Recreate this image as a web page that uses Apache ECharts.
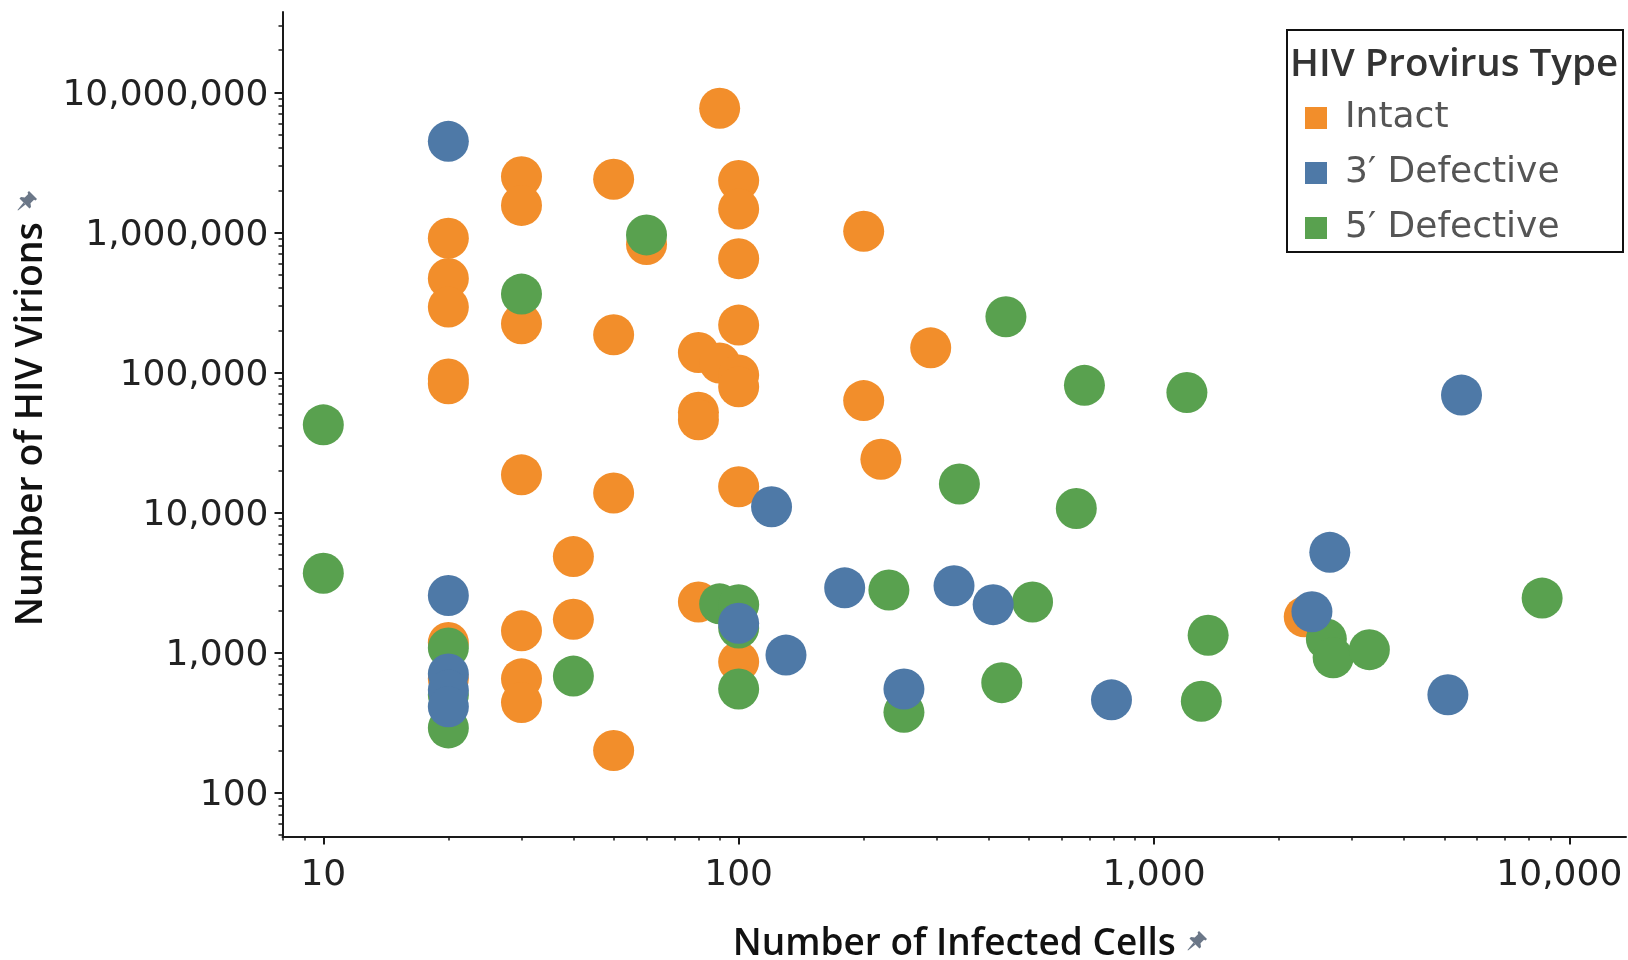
<!DOCTYPE html>
<html>
<head>
<meta charset="utf-8">
<title>HIV virions vs infected cells</title>
<script src="https://cdn.jsdelivr.net/npm/echarts@6/dist/echarts.min.js"></script>
<style>
  html, body { margin: 0; padding: 0; background: #ffffff; }
  #chart { width: 1628px; height: 960px; }
</style>
</head>
<body>
<div id="chart"></div>
<script>
// ---- data -------------------------------------------------------------
const seriesNames = ['Intact', '3\u2032 Defective', '5\u2032 Defective'];
const seriesColors = ['#F28E2B', '#4E79A7', '#59A14F'];

const intactCells = [20, 20, 20, 20, 20, 20, 20, 30, 30, 30, 30, 30, 30, 30, 40, 40, 50, 50, 50, 50,
  60, 80, 80, 80, 80, 90, 90, 100, 100, 100, 100, 100, 100, 100, 100, 200, 200, 220, 290, 2300];
const intactVirions = [910000, 470000, 293000, 90000, 83000, 1180, 650, 2500000, 1560000, 223000,
  18600, 1430, 650, 440, 4850, 1730, 2400000, 186000, 13800, 200,
  820000, 139000, 52000, 46000, 2300, 7700000, 117000, 2350000, 1470000, 650000,
  218000, 96000, 79000, 15300, 860, 1020000, 63000, 24000, 150000, 1800];

const def3Cells = [20, 20, 20, 20, 20, 100, 120, 130, 180, 250, 330, 410, 790, 2400, 2650, 5100, 5500];
const def3Virions = [4470000, 2560, 705, 540, 411, 1620, 11000, 960, 2900, 550, 3000, 2200, 460,
  1960, 5200, 500, 69000];

const def5Cells = [10, 10, 20, 20, 20, 30, 40, 60, 90, 100, 100, 100, 230, 250, 340, 430, 440, 510,
  650, 680, 1200, 1300, 1350, 2600, 2700, 3300, 8600];
const def5Virions = [42300, 3690, 1080, 498, 290, 363000, 680, 960000, 2230, 2200, 1500, 550, 2800,
  375, 16000, 610, 250000, 2300, 10700, 81000, 72000, 450, 1330, 1250, 920, 1050, 2450];

// ---- axis ticks -------------------------------------------------------
const xMajorTicks = [10, 100, 1000, 10000];
const xMinorTicks = [8, 9, 20, 30, 40, 50, 60, 70, 80, 90, 200, 300, 400, 500, 600, 700, 800, 900,
  2000, 3000, 4000, 5000, 6000, 7000, 8000, 9000];
const yMajorTicks = [100, 1000, 10000, 100000, 1000000, 10000000];
const yMinorTicks = [50, 60, 70, 80, 90, 200, 300, 400, 500, 600, 700, 800, 900,
  2000, 3000, 4000, 5000, 6000, 7000, 8000, 9000,
  20000, 30000, 40000, 50000, 60000, 70000, 80000, 90000,
  200000, 300000, 400000, 500000, 600000, 700000, 800000, 900000,
  2000000, 3000000, 4000000, 5000000, 6000000, 7000000, 8000000, 9000000,
  20000000, 30000000];
const xRange = [7.975, 13690];
const yRange = [48.65, 37500000];

// ---- helpers ----------------------------------------------------------
const pairs = (xs, ys) => xs.map((x, i) => [x, ys[i]]);
const thousands = v => Number(v).toLocaleString('en-US');
// the last x label sits near the right edge, so it is nudged left to stay visible
const xLabelText = v => (v === xMajorTicks[xMajorTicks.length - 1] ? '{edge|' + thousands(v) + '}' : thousands(v));
const yLabelText = v => '{num|' + thousands(v) + '}';
const tickFont = 'DejaVu Sans';
const titleFont = '"Open Sans", "Noto Sans", sans-serif';
const inkColor = '#1a1a1a';

// small push-pin glyph shown after each axis title
const pinHead = [[12, 0], [20, 8], [18.5, 9.5], [17, 8.8], [13.5, 12.3], [14, 16], [12.5, 17.5],
  [2.5, 7.5], [4, 6], [7.7, 6.5], [11.2, 3], [10.5, 1.5]];
const pinNeedle = [[6.5, 11.5], [0.5, 19], [1, 19.5], [8.5, 13.5]];
function pinIcon(x, y) {
  return {
    type: 'group', x: x, y: y, z: 11, silent: true,
    children: [
      { type: 'polygon', shape: { points: pinHead }, style: { fill: '#6b7788' } },
      { type: 'polygon', shape: { points: pinNeedle }, style: { fill: '#6b7788' } }
    ]
  };
}

function logAxis(range, extra) {
  return Object.assign({
    type: 'log',
    logBase: 10,
    min: range[0],
    max: range[1],
    splitLine: { show: false },
    minorTick: { show: false },
    minorSplitLine: { show: false }
  }, extra);
}

const chart = echarts.init(document.getElementById('chart'), null, { renderer: 'canvas' });

const option = {
  backgroundColor: '#ffffff',
  animation: false,
  grid: {
    left: 282.5, top: 12, right: 2, bottom: 123.5,
    containLabel: false, outerBoundsMode: 'none'
  },
  xAxis: [
    logAxis(xRange, {
      position: 'bottom',
      axisLine: { show: true, onZero: false, lineStyle: { color: inkColor, width: 2 } },
      axisTick: { show: true, length: 8, customValues: xMajorTicks, lineStyle: { color: inkColor, width: 2 } },
      axisLabel: {
        show: true, customValues: xMajorTicks, formatter: xLabelText, margin: 21,
        fontFamily: tickFont, fontSize: 36, color: '#222',
        rich: {
          edge: { fontFamily: tickFont, fontSize: 36, color: '#222', padding: [0, 20, 0, 0] }
        }
      },
      name: 'Number of Infected Cells',
      nameLocation: 'middle',
      nameGap: 89,
      nameTextStyle: { fontFamily: titleFont, fontWeight: 600, fontSize: 37, color: '#111' }
    }),
    logAxis(xRange, {
      position: 'bottom',
      axisLine: { show: false, onZero: false },
      axisTick: { show: true, length: 4, customValues: xMinorTicks, lineStyle: { color: inkColor, width: 1.5 } },
      axisLabel: { show: false }
    })
  ],
  yAxis: [
    logAxis(yRange, {
      position: 'left',
      axisLine: { show: true, onZero: false, lineStyle: { color: inkColor, width: 2 } },
      axisTick: { show: true, length: 8, customValues: yMajorTicks, lineStyle: { color: inkColor, width: 2 } },
      axisLabel: {
        show: true, customValues: yMajorTicks, formatter: yLabelText, margin: 14,
        fontFamily: tickFont, fontSize: 36, color: '#222',
        rich: {
          num: { fontFamily: tickFont, fontSize: 36, color: '#222', padding: [6, 0, 0, 0] }
        }
      },
      name: 'Number of HIV Virions',
      nameLocation: 'middle',
      nameGap: 232,
      nameTextStyle: { fontFamily: titleFont, fontWeight: 600, fontSize: 37.5, color: '#111' }
    }),
    logAxis(yRange, {
      position: 'left',
      axisLine: { show: false, onZero: false },
      axisTick: { show: true, length: 4, customValues: yMinorTicks, lineStyle: { color: inkColor, width: 1.5 } },
      axisLabel: { show: false }
    })
  ],
  legend: {
    orient: 'vertical',
    left: 1300,
    top: 95,
    itemWidth: 22,
    itemHeight: 22,
    itemGap: 19,
    icon: 'rect',
    selectedMode: false,
    data: seriesNames,
    textStyle: { fontFamily: tickFont, fontSize: 36, color: '#555', padding: [0, 0, 0, 13] }
  },
  graphic: [
    {
      type: 'rect', x: 1287, y: 30, z: 10, silent: true,
      shape: { x: 0, y: 0, width: 336, height: 222 },
      style: { fill: 'rgba(0,0,0,0)', stroke: '#111', lineWidth: 2 }
    },
    {
      type: 'text', x: 1290, y: 46, z: 11, silent: true,
      style: { text: 'HIV Provirus Type', font: '600 38.5px "Open Sans"', fill: '#333' }
    },
    pinIcon(1187, 931),
    pinIcon(17, 191)
  ],
  series: [
    {
      name: seriesNames[0], type: 'scatter', z: 2,
      data: pairs(intactCells, intactVirions),
      symbol: 'circle', symbolSize: 41,
      itemStyle: { color: seriesColors[0], opacity: 1 },
      emphasis: { disabled: true }
    },
    {
      name: seriesNames[1], type: 'scatter', z: 4,
      data: pairs(def3Cells, def3Virions),
      symbol: 'circle', symbolSize: 41,
      itemStyle: { color: seriesColors[1], opacity: 1 },
      emphasis: { disabled: true }
    },
    {
      name: seriesNames[2], type: 'scatter', z: 3,
      data: pairs(def5Cells, def5Virions),
      symbol: 'circle', symbolSize: 41,
      itemStyle: { color: seriesColors[2], opacity: 1 },
      emphasis: { disabled: true }
    }
  ]
};

chart.setOption(option);
</script>
</body>
</html>
